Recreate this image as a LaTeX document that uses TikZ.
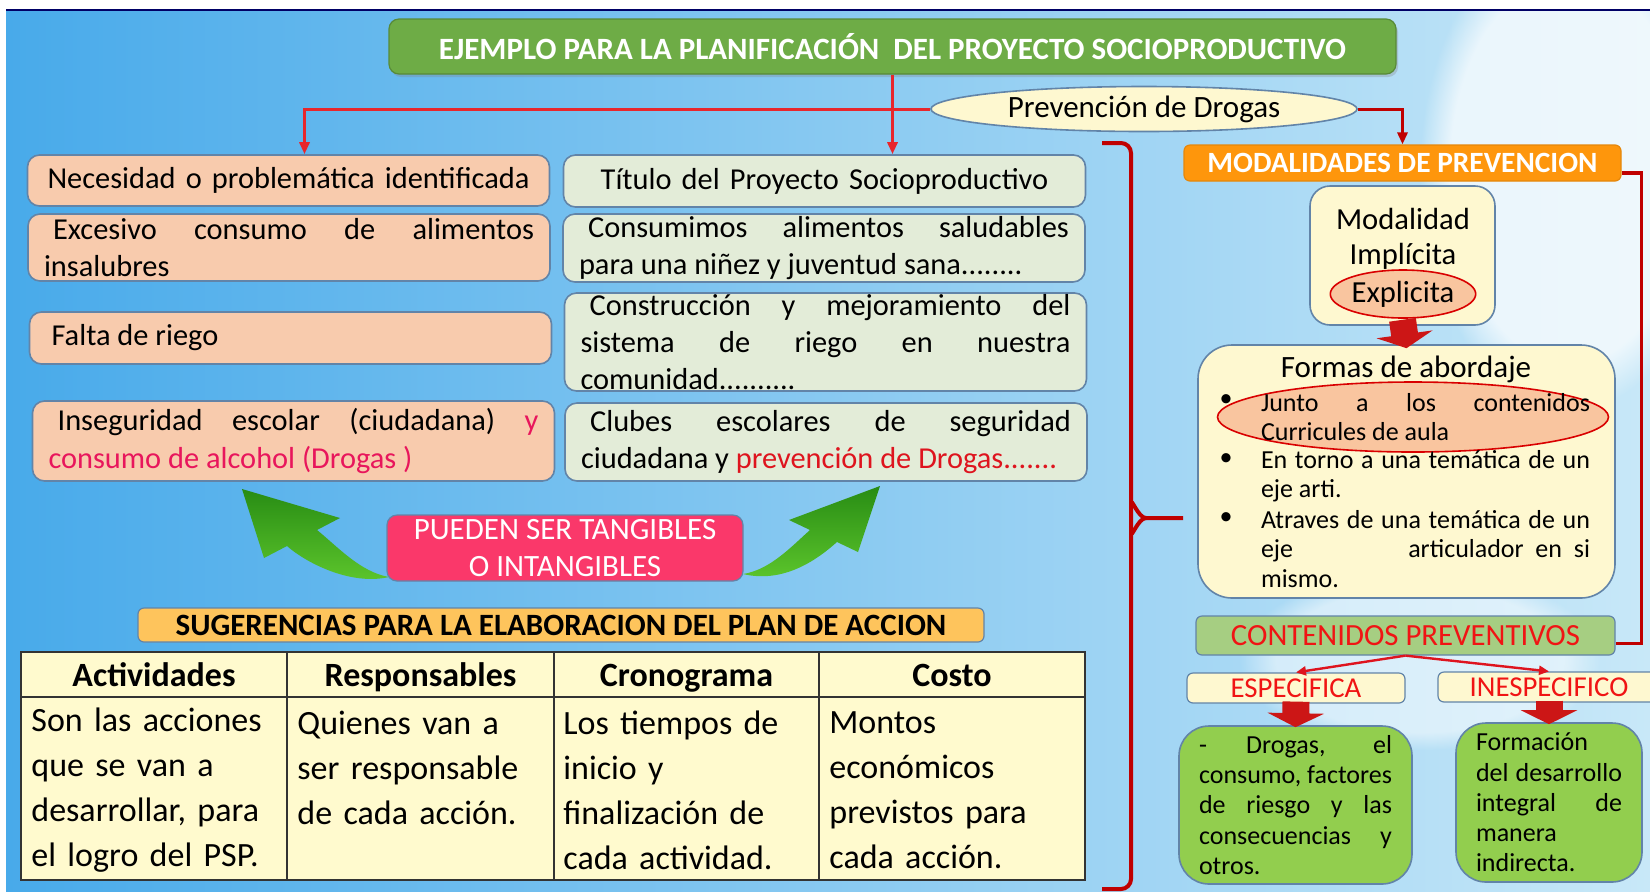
\documentclass[tikz,border=0pt]{standalone}
\usepackage{fontspec}
\setmainfont{Carlito}
\usetikzlibrary{arrows.meta,shapes.geometric,shadows,fadings}

\definecolor{bgleft}{RGB}{72,170,234}
\definecolor{bgmid}{RGB}{145,214,247}
\definecolor{bgright}{RGB}{200,232,248}
\definecolor{titlegreen}{RGB}{110,172,70}
\definecolor{salmon}{RGB}{248,203,173}
\definecolor{sage}{RGB}{227,236,216}
\definecolor{edge}{RGB}{98,132,168}
\definecolor{cream}{RGB}{254,248,208}
\definecolor{rosered}{RGB}{250,56,106}
\definecolor{amber}{RGB}{254,196,92}
\definecolor{tablefill}{RGB}{255,250,206}
\definecolor{linkred}{RGB}{232,38,44}
\definecolor{darkred}{RGB}{192,0,0}
\definecolor{modorange}{RGB}{254,150,12}
\definecolor{olive}{RGB}{166,206,130}
\definecolor{lime}{RGB}{146,206,78}
\definecolor{leafdark}{RGB}{40,140,20}
\definecolor{leaflight}{RGB}{95,200,45}
\definecolor{magentared}{RGB}{232,22,92}
\definecolor{textred}{RGB}{222,20,30}
\definecolor{brightred}{RGB}{240,20,20}
\definecolor{blockred}{RGB}{204,22,22}

\newcommand\fsz[2]{\fontsize{#1}{#2}\selectfont}

\hyphenpenalty=10000
\exhyphenpenalty=10000
\tolerance=10000
\hbadness=10000

\begin{document}
\begin{tikzpicture}[x=0.5pt, y=-0.5pt,
    box/.style={draw=edge, line width=0.8pt, rounded corners=6pt, inner xsep=8pt, inner ysep=0pt,
      text width=245pt, align=justify, font=\fsz{15.2}{18.6}},
    need/.style={box, fill=salmon},
    proj/.style={box, fill=sage},
    bar/.style={draw=edge, line width=0.6pt, rounded corners=3pt, inner sep=0pt, align=center},
    softbox/.style={draw=edge, line width=0.8pt, fill=cream, inner sep=0pt},
    leafbox/.style={draw=edge, line width=0.8pt, fill=lime, rounded corners=15pt, inner ysep=0pt,
      align=justify, font=\fsz{13}{15.1}},
    oval/.style={ellipse, draw=red!85!black, line width=0.8pt, fill=salmon!92!orange, inner sep=0pt},
    bulletitem/.style={text width=164.5pt, align=justify, inner sep=0pt, font=\fsz{13}{14.8}},
    link/.style={linkred, line width=1.5pt, -{Triangle[length=6pt,width=5pt]}},
    thinred/.style={textred, line width=1.2pt, -{Triangle[length=5pt,width=4.5pt]}},
    rail/.style={darkred, line width=1.8pt},
    blockarrow/.style={blockred, line width=13.5pt, -{Triangle[length=7pt,width=28pt]}},
    cell/.style={text width=125pt, align=left, inner sep=0pt, font=\fsz{17}{22.5}},
    colhead/.style={font=\fsz{17}{20}\bfseries, inner sep=0pt, anchor=base}]

  % page and background
  \useasboundingbox (0,0) rectangle (1650,891);
  \clip (0,0) rectangle (1650,891);
  \fill[white] (0,0) rectangle (1650,891);
  \shade[left color=bgleft, middle color=bgmid, right color=bgright] (6,10) rectangle (1650,891);
  \fill[white, opacity=0.7, path fading=circle with fuzzy edge 20 percent]
    (1570,170) ellipse [x radius=150, y radius=240];
  \fill[white, opacity=0.5, path fading=circle with fuzzy edge 20 percent]
    (1420,660) ellipse [x radius=180, y radius=90];
  \draw[black!60!blue, line width=1pt] (6,9.5) -- (1650,9.5);

  % title and theme
  \node[bar, fill=titlegreen, draw=titlegreen!80!black, rounded corners=5pt, minimum width=503.5pt,
    minimum height=27.5pt, text=white, font=\fsz{15.5}{18}\bfseries,
    drop shadow={shadow xshift=1pt, shadow yshift=-1.5pt, opacity=0.3}] (head) at (892.5,46.5)
    {EJEMPLO PARA LA PLANIFICACIÓN\ \ DEL PROYECTO SOCIOPRODUCTIVO};
  \node[ellipse, draw=edge, line width=0.8pt, fill=cream, minimum width=213pt, minimum height=22.5pt,
    inner sep=0pt, font=\fsz{15.5}{18}] (prev) at (1144,109) {Prevención de Drogas};

  % needs
  \node[need, align=center, minimum height=25.5pt] (nec) at (288.5,180.5)
    {Necesidad o problemática identificada};
  \node[need, minimum height=33.5pt] (exc) at (289,247.5)
    {\hspace*{0.3em}Excesivo consumo de alimentos\linebreak insalubres};
  \node[need, minimum height=26pt] (fal) at (290.5,338) {\hspace*{0.2em}Falta de riego};
  \node[need, minimum height=40pt] (ins) at (293.5,441)
    {\hspace*{0.3em}Inseguridad escolar (ciudadana) \textcolor{magentared}{y}\linebreak
     \textcolor{magentared}{consumo de alcohol (Drogas )}};

  % project titles
  \node[proj, align=center, minimum height=26pt] (tit) at (824.5,181)
    {Título del Proyecto Socioproductivo};
  \node[proj, minimum height=34pt] (cons) at (824,248)
    {\hspace*{0.3em}Consumimos alimentos saludables\linebreak para una niñez y juventud sana........};
  \node[proj, minimum height=49pt] (constr) at (825.5,342)
    {\hspace*{0.3em}Construcción y mejoramiento del\linebreak sistema de riego en nuestra\linebreak comunidad..........};
  \node[proj, minimum height=39pt] (club) at (826,442)
    {\hspace*{0.3em}Clubes escolares de seguridad\linebreak ciudadana y \textcolor{textred}{prevención de Drogas.......}};

  \draw[link] (head.south) -- (head.south |- tit.north);
  \draw[link] (prev.west) -| ([xshift=8pt]nec.north);

  % green arrows
  \shade[top color=leafdark, bottom color=leaflight]
    (317,530) .. controls (337,546) and (360,572) .. (389,577)
    .. controls (350,586) and (305,562) .. (287,546) -- (264,558) -- (242,489) -- (340,518) -- cycle;
  \shade[top color=leafdark, bottom color=leaflight]
    (810,530) .. controls (792,546) and (770,570) .. (743,574)
    .. controls (785,584) and (819,558) .. (837,542) -- (858,552) -- (880,486) -- (789,520) -- cycle;
  \node[bar, fill=rosered, draw=edge, rounded corners=5pt, minimum width=178pt, minimum height=33pt,
    text=white, font=\fsz{15.5}{18.5}] (tang) at (565,548) {PUEDEN SER TANGIBLES\\O INTANGIBLES};

  % plan de accion
  \node[bar, fill=amber, minimum width=423pt, minimum height=17pt, font=\fsz{15.5}{17}\bfseries] (sug)
    at (561,625) {SUGERENCIAS PARA LA ELABORACION DEL PLAN DE ACCION};
  \draw[black!80, line width=1pt, fill=tablefill] (21,652) rectangle (1085,880);
  \draw[black!80, line width=1pt] (21,697) -- (1085,697)
    (287,652) -- (287,880) (554,652) -- (554,880) (819,652) -- (819,880);
  \node[colhead] (h1) at (154,686) {Actividades};
  \node[colhead] (h2) at (420.5,686) {Responsables};
  \node[colhead] (h3) at (686.5,686) {Cronograma};
  \node[colhead] (h4) at (952,686) {Costo};
  \node[cell, anchor=west] (c1) at (31,790.5) {Son las acciones\\que se van a\\desarrollar, para\\el logro del PSP.};
  \node[cell, anchor=west] (c2) at (297,767.5) {Quienes van a\\ser responsable\\de cada acción.};
  \node[cell, anchor=west] (c3) at (563,790.5) {Los tiempos de\\inicio y\\finalización de\\cada actividad.};
  \node[cell, anchor=west] (c4) at (829,790.5) {Montos\\económicos\\previstos para\\cada acción.};

  % brace
  \draw[rail, line width=2pt, rounded corners=5pt] (1102,143) -- (1131,143) -- (1131,889) -- (1102,889);
  \draw[rail, line width=2pt] (1131,504) to[out=90,in=180] (1146,518) -- (1183,518);
  \draw[rail, line width=2pt] (1131,532) to[out=-90,in=180] (1146,518);

  % modalidades
  \node[bar, fill=modorange, draw=modorange!90!black, minimum width=218.5pt, minimum height=18pt,
    text=white, font=\fsz{14.7}{17}\bfseries] (modal) at (1402.5,163) {MODALIDADES DE PREVENCION};
  \draw[rail, line width=1.5pt, -{Triangle[length=6pt,width=5pt]}] (prev.east) -| (modal.north);
  \node[softbox, rounded corners=10pt, minimum width=92.5pt, minimum height=69.5pt] (modbox)
    at (1402.5,255.5) {};
  \node[align=center, inner sep=0pt, font=\fsz{15.3}{17.8}] (modtxt) at (1403,239) {Modalidad\\Implícita};
  \node[oval, minimum width=65pt, minimum height=24pt, font=\fsz{15.3}{17.8}] (expl) at (1403,294) {Explicita};

  \node[softbox, rounded corners=17pt, minimum width=208.5pt, minimum height=126.5pt] (formas)
    at (1406.5,471.5) {};
  \draw[blockarrow] ([yshift=3pt]modbox.south) -- ([yshift=-2pt]formas.north);
  \node[oval, minimum width=195.5pt, minimum height=35pt] (curr) at (1413,417) {};
  \node[font=\fsz{15.5}{18}, inner sep=0pt] (formtit) at (1406,369) {Formas de abordaje};
  \node[font=\fsz{13}{14.8}, inner sep=0pt] (b1) at (1226,401) {\textbullet};
  \node[font=\fsz{13}{14.8}, inner sep=0pt] (b2) at (1226,460) {\textbullet};
  \node[font=\fsz{13}{14.8}, inner sep=0pt] (b3) at (1226,519) {\textbullet};
  \node[bulletitem] (it1) at (1425.5,417) {Junto a los contenidos\linebreak Curricules de aula};
  \node[bulletitem] (it2) at (1425.5,476) {En torno a una temática de un\linebreak eje arti.};
  \node[bulletitem] (it3) at (1425.5,549) {Atraves de una temática de un\linebreak eje\hfill articulador\ \ en\ \ si\linebreak mismo.};

  % contenidos
  \node[bar, fill=olive, minimum width=209.5pt, minimum height=19.5pt, text=brightred,
    font=\fsz{15.4}{18}] (cont) at (1405.5,635.5) {CONTENIDOS PREVENTIVOS};
  \draw[rail] ([yshift=-5pt]modal.east) -- ++(10pt,0) |- ([yshift=-4pt]cont.east);
  \node[bar, fill=cream, minimum width=109pt, minimum height=15pt, text=brightred,
    font=\fsz{14.4}{17}] (esp) at (1296,688) {ESPECIFICA};
  \node[bar, fill=cream, minimum width=111pt, minimum height=15pt, text=brightred,
    font=\fsz{14.4}{17}] (ines) at (1549,687) {INESPECIFICO};
  \draw[thinred] (cont.south) -- (esp.north);
  \draw[thinred] (cont.south) -- (ines.north);
  \node[leafbox, text width=96.5pt, inner xsep=10pt, minimum height=79pt] (g1) at (1295.5,805)
    {- Drogas, el\linebreak consumo, factores\linebreak de riesgo y las\linebreak consecuencias y\linebreak otros.};
  \node[leafbox, text width=73pt, inner xsep=10pt, minimum height=79.5pt] (g2) at (1549,802.5)
    {Formación\linebreak del desarrollo\linebreak integral de\linebreak manera\linebreak indirecta.};
  \draw[blockarrow] ([yshift=1pt]esp.south) -- ([yshift=-1pt]g1.north);
  \draw[blockarrow] ([yshift=1pt]ines.south) -- ([yshift=-1pt]g2.north);
\end{tikzpicture}
\end{document}
